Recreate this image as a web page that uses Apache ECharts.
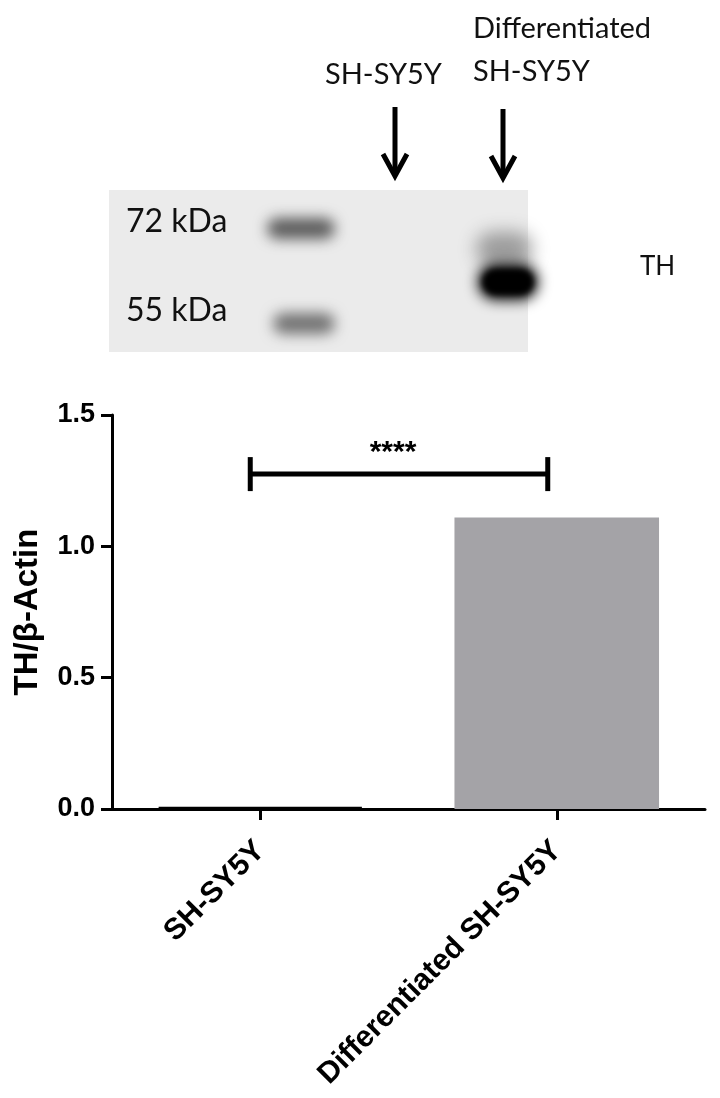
<!DOCTYPE html>
<html>
<head>
<meta charset="utf-8">
<script src="https://cdn.jsdelivr.net/npm/echarts@6/dist/echarts.min.js"></script>
<style>
html,body{margin:0;padding:0;background:#fff;}
#chart{width:720px;height:1098px;}
</style>
</head>
<body>
<div id="chart"></div>
<script>
// ---- data ----
const categories = ['SH-SY5Y', 'Differentiated SH-SY5Y'];
const values = [0.005, 1.11];
const yMin = 0, yMax = 1.5, yInterval = 0.5;
const yAxisTitle = 'TH/\u03B2-Actin';
const significance = [[0, 1.275, 1]]; // [fromCategory, y, toCategory]
const significanceLabel = '****';
const markerLabels = ['72 kDa', '55 kDa'];
const laneLabels = ['SH-SY5Y', 'Differentiated', 'SH-SY5Y'];
const proteinLabel = 'TH';

const chart = echarts.init(document.getElementById('chart'), null, {renderer: 'canvas'});

const calib = "Lato, 'Open Sans', sans-serif";
const arial = "'Liberation Sans', Arial, sans-serif";

function band(x, y, w, h, color, blur) {
  return {
    type: 'rect', silent: true,
    shape: {x: x - 3000, y: y, width: w, height: h, r: Math.min(h, w) / 2},
    style: {fill: color, shadowBlur: blur, shadowColor: color, shadowOffsetX: 3000, shadowOffsetY: 0}
  };
}
function arrow(x, y1, y2) {
  return [
    {type: 'line', shape: {x1: x, y1: y1, x2: x, y2: y2 - 2}, style: {stroke: '#000', lineWidth: 5}},
    {type: 'polyline', shape: {points: [[x - 12, y2 - 22], [x, y2], [x + 12, y2 - 22]]},
     style: {stroke: '#000', lineWidth: 5, fill: null, lineJoin: 'miter'}}
  ];
}
function label(text, x, cy, size) {
  return {type: 'text', silent: true,
    style: {text: text, x: x, y: cy, font: size + 'px ' + calib, fill: '#111', align: 'left', verticalAlign: 'middle'}};
}

const graphics = [
  {type: 'rect', shape: {x: 109, y: 190, width: 419, height: 162}, style: {fill: '#ebebeb'}},
  band(267, 218, 68, 21, '#5c5c5c', 14),
  band(273, 313, 62, 21, '#727272', 14),
  band(476, 232, 56, 34, '#9c9c9c', 18),
  band(478, 264, 60, 36, '#000000', 14),
  band(483, 270, 50, 24, '#000000', 6),
  label(markerLabels[0], 126, 222, 32),
  label(markerLabels[1], 126, 311, 32),
  label(laneLabels[0], 325, 75, 29),
  label(laneLabels[1], 473, 29, 29),
  label(laneLabels[2], 473, 72, 29),
  label(proteinLabel, 640, 267, 26)
].concat(arrow(395, 107, 176), arrow(503, 109, 178));

const option = {
  backgroundColor: '#ffffff',
  animation: false,
  grid: {left: 112, right: 15, top: 415, bottom: 289, containLabel: false},
  xAxis: {
    type: 'category',
    data: categories,
    axisLine: {show: true, lineStyle: {color: '#000', width: 3}},
    axisTick: {show: true, alignWithLabel: true, length: 11, lineStyle: {color: '#000', width: 3}},
    axisLabel: {rotate: 45, margin: 37, color: '#000', fontWeight: 'bold', fontSize: 30, fontFamily: arial, interval: 0},
    splitLine: {show: false}
  },
  yAxis: {
    type: 'value',
    min: yMin, max: yMax, interval: yInterval,
    name: yAxisTitle,
    nameLocation: 'middle',
    nameGap: 68,
    nameTextStyle: {color: '#000', fontWeight: 'bold', fontSize: 33, fontFamily: arial},
    axisLine: {show: true, lineStyle: {color: '#000', width: 3}},
    axisTick: {show: true, length: 11, lineStyle: {color: '#000', width: 3}},
    axisLabel: {margin: 17, color: '#000', fontWeight: 'bold', fontSize: 27, fontFamily: arial,
      formatter: v => v.toFixed(1)},
    splitLine: {show: false}
  },
  series: [
    {
      type: 'bar',
      barWidth: '69%',
      data: values.map((v, i) => ({
        value: v,
        itemStyle: i === 0 ? {color: '#ffffff', borderColor: '#000', borderWidth: 3} : {color: '#a4a3a7'}
      })),
      z: 2
    },
    {
      type: 'custom',
      data: significance,
      encode: {x: 0, y: 1},
      z: 3,
      renderItem: function (params, api) {
        const p1 = api.coord([api.value(0), api.value(1)]);
        const p2 = api.coord([api.value(2), api.value(1)]);
        const x1 = p1[0] - 10, x2 = p2[0] - 9, y = p1[1];
        const cap = 17;
        return {
          type: 'group',
          children: [
            {type: 'line', shape: {x1: x1, y1: y, x2: x2, y2: y}, style: {stroke: '#000', lineWidth: 5}},
            {type: 'line', shape: {x1: x1, y1: y - cap, x2: x1, y2: y + cap}, style: {stroke: '#000', lineWidth: 5}},
            {type: 'line', shape: {x1: x2, y1: y - cap, x2: x2, y2: y + cap}, style: {stroke: '#000', lineWidth: 5}},
            {type: 'text', style: {text: significanceLabel, x: (x1 + x2) / 2 - 6, y: y - 6,
              align: 'center', verticalAlign: 'bottom', font: 'bold 30px ' + arial, fill: '#000'}}
          ]
        };
      }
    }
  ],
  graphic: graphics
};
chart.setOption(option);
</script>
</body>
</html>
